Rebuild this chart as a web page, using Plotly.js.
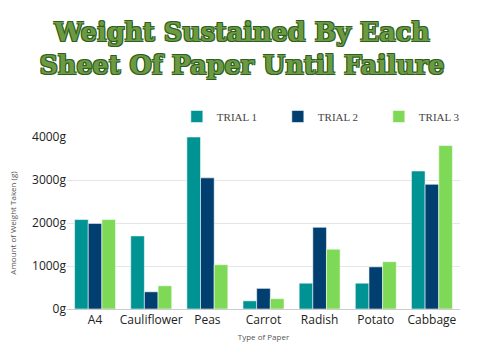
<!DOCTYPE html>
<html><head><meta charset="utf-8">
<script src="https://cdn.plot.ly/plotly-3.0.1.min.js"></script>
<style>body{margin:0;background:#fff}#c{width:484px;height:353px}</style>
</head><body><div id="c"></div>
<script>
const categories = ["A4","Cauliflower","Peas","Carrot","Radish","Potato","Cabbage"];
const trial1 = [2080,1700,4000,190,600,600,3210];
const trial2 = [1990,400,3050,480,1900,980,2900];
const trial3 = [2080,540,1030,240,1390,1100,3800];
const seriesNames = ["TRIAL 1","TRIAL 2","TRIAL 3"];
const colors = ["#009394","#003f6f","#7ed957"];
const yTicks = [0,1000,2000,3000,4000];
const yTickLabels = ["0g","1000g","2000g","3000g","4000g"];

const allSeries = [trial1, trial2, trial3];
const data = allSeries.map((vals,i)=>({
  type:"bar", x:categories, y:vals, name:seriesNames[i],
  marker:{color:colors[i], line:{color:"rgba(255,255,255,0.55)", width:1}},
  hoverinfo:"skip"
}));

const layout = {
  width:484, height:353,
  margin:{l:67,r:0,t:137,b:44},
  paper_bgcolor:"#fff", plot_bgcolor:"#fff",
  barmode:"group", bargap:0.27, bargroupgap:0,
  title:{
    text:"Weight Sustained By Each<br>Sheet Of Paper Until Failure",
    x:242/484, xref:"container", xanchor:"center", yref:"container", y:0.885, yanchor:"middle",
    font:{family:"DejaVu Serif", size:25.5, weight:"bold", color:"#6b9a42",
          shadow:"1px 1px 0 #2f5f1f, -1px -1px 0 #2f5f1f, 1px -1px 0 #2f5f1f, -1px 1px 0 #2f5f1f"}
  },
  showlegend:true,
  legend:{orientation:"h", x:0.99, xanchor:"right", y:1.035, yanchor:"bottom",
    font:{family:"Liberation Serif", size:11, color:"#444"},
    entrywidth:56, itemwidth:30, traceorder:"normal"},
  xaxis:{
    domain:[0, 393/417],
    showgrid:false, showline:true, linecolor:"#cccccc", linewidth:1,
    tickfont:{family:"Open Sans", size:12, color:"#222"},
    ticks:"",
    title:{text:"Type of Paper", font:{family:"Open Sans", size:8, color:"#555"}, standoff:6}
  },
  yaxis:{
    range:[0,4000], tickmode:"array", tickvals:yTicks, ticktext:yTickLabels,
    showgrid:true, gridcolor:"#e6e6e6", zeroline:false,
    showline:false,
    tickfont:{family:"Open Sans", size:12, color:"#222"},
    title:{text:"Amount of Weight Taken (g)", font:{family:"Open Sans", size:8, color:"#555"}, standoff:14}
  }
};
Plotly.newPlot("c", data, layout, {displayModeBar:false, staticPlot:true});
</script></body></html>
